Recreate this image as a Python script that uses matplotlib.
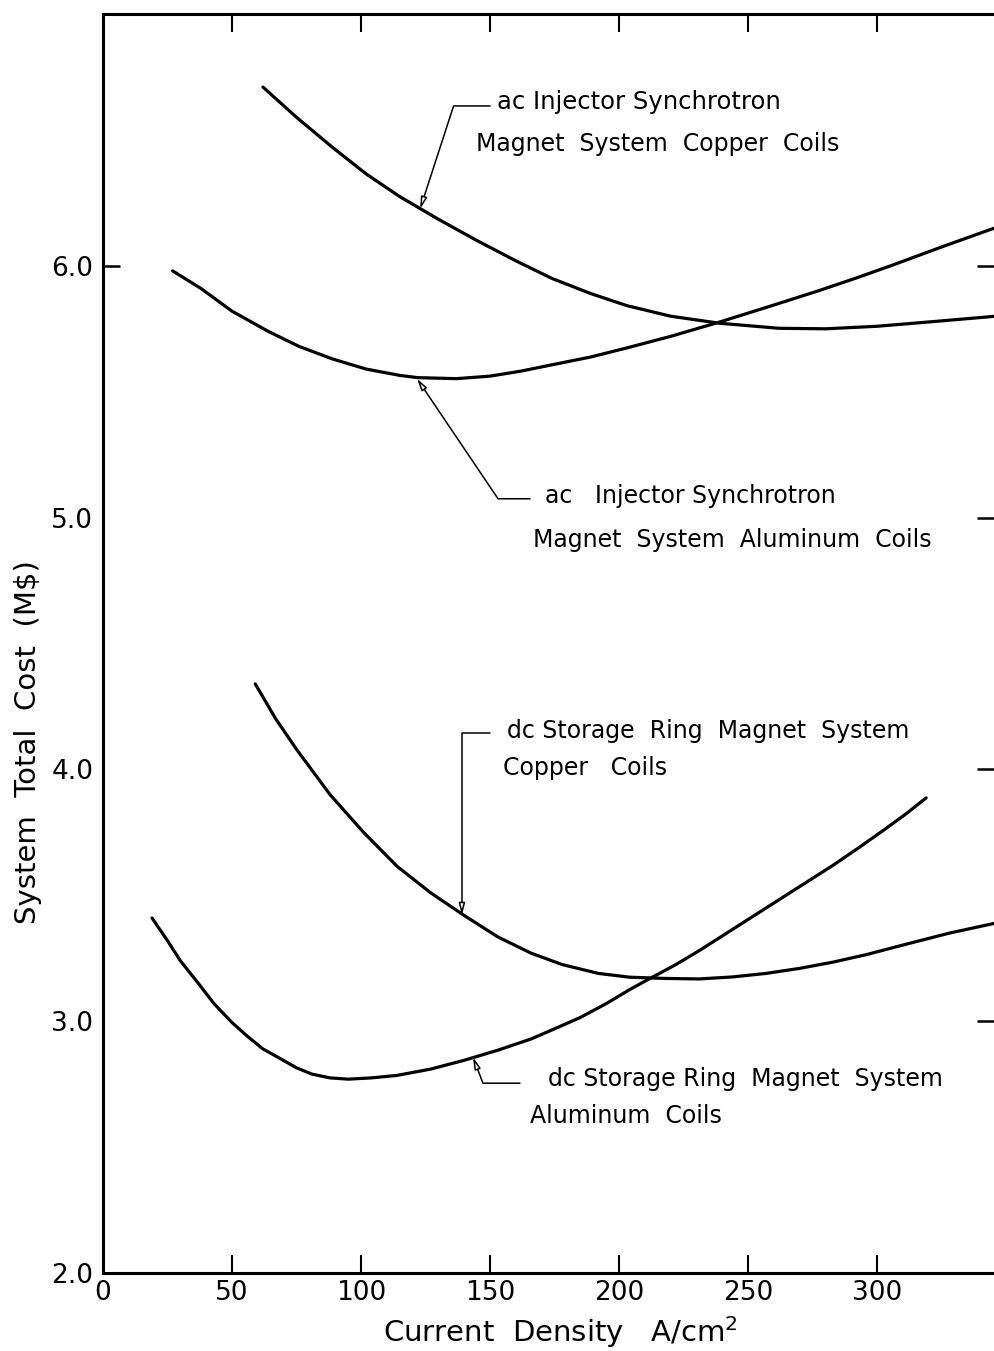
import matplotlib.pyplot as plt

# current density (A/cm^2) vs system total cost (M$)
ac_cu_x = [62, 75, 89, 102, 115, 130, 145, 160, 174, 189, 203, 220, 239, 262, 280, 300, 321, 346]
ac_cu_y = [6.71, 6.59, 6.47, 6.365, 6.275, 6.185, 6.10, 6.02, 5.95, 5.89, 5.842, 5.80, 5.772, 5.752, 5.75,
           5.76, 5.778, 5.80]

ac_al_x = [27, 38, 50, 64, 76, 89, 102, 115, 122, 137, 150, 162, 174, 189, 203, 220, 239, 258, 277, 292, 306, 325, 346]
ac_al_y = [5.98, 5.91, 5.82, 5.74, 5.68, 5.63, 5.59, 5.565, 5.556, 5.552, 5.562, 5.582, 5.607, 5.638, 5.674,
           5.72, 5.777, 5.838, 5.90, 5.952, 6.003, 6.075, 6.152]

dc_cu_x = [59, 67, 75, 88, 101, 114, 127, 140, 153, 166, 178, 192, 204, 218, 231, 244, 257, 270, 283, 296, 309, 328, 346]
dc_cu_y = [4.34, 4.20, 4.08, 3.90, 3.75, 3.615, 3.51, 3.42, 3.335, 3.27, 3.225, 3.19, 3.175, 3.17, 3.168, 3.176,
           3.19, 3.21, 3.235, 3.265, 3.30, 3.35, 3.39]

dc_al_x = [19, 25, 30, 37, 43, 50, 56, 62, 69, 75, 81, 88, 95, 104, 114, 127, 140, 153, 166, 175, 185, 195,
           204, 212, 222, 231, 244, 257, 270, 283, 293, 302, 311, 319]
dc_al_y = [3.41, 3.32, 3.24, 3.15, 3.07, 2.995, 2.94, 2.89, 2.85, 2.815, 2.79, 2.775, 2.77, 2.775, 2.785, 2.81,
           2.845, 2.885, 2.93, 2.97, 3.015, 3.07, 3.125, 3.17, 3.225, 3.28, 3.365, 3.45, 3.535, 3.62, 3.69,
           3.755, 3.822, 3.887]

x_ticks = [0, 50, 100, 150, 200, 250, 300]
y_ticks = [2.0, 3.0, 4.0, 5.0, 6.0]

fig = plt.figure(figsize=(9.94, 13.51), dpi=100)
ax = fig.add_axes([0.1036, 0.0577, 0.8964, 0.9319])

for xs, ys in [(ac_cu_x, ac_cu_y), (ac_al_x, ac_al_y), (dc_cu_x, dc_cu_y), (dc_al_x, dc_al_y)]:
    ax.plot(xs, ys, color="black", lw=2.3, solid_capstyle="round", solid_joinstyle="round")

ax.set_xlim(0, 345.3)
ax.set_ylim(2.0, 7.0)

# frame: right side is cut off in the scan
for s in ["left", "top", "bottom"]:
    ax.spines[s].set_linewidth(2.2)
ax.spines["right"].set_visible(False)

ax.set_xticks(x_ticks)
ax.set_xticklabels([str(v) for v in x_ticks])
ax.set_yticks(y_ticks)
ax.set_yticklabels(["%.1f" % v for v in y_ticks])
ax.tick_params(axis="x", direction="in", length=13, width=1.5, top=True, bottom=True,
               labelsize=19, pad=5)
ax.tick_params(axis="y", direction="in", length=12, width=1.8, left=True, right=True,
               labelsize=19, pad=7)

xt = ax.xaxis.get_major_ticks()
xt[0].tick1line.set_visible(False)
xt[0].tick2line.set_visible(False)
for t, v in zip(ax.yaxis.get_major_ticks(), y_ticks):
    if v != 6.0:
        t.tick1line.set_visible(False)
    if v == 2.0:
        t.tick2line.set_visible(False)

ax.set_xlabel("Current  Density   A/cm$^2$", fontsize=21)
ax.set_ylabel("System  Total  Cost  (M$)", fontsize=21)
ax.xaxis.set_label_coords(0.513, -0.033)
ax.yaxis.set_label_coords(-0.068, 0.422)

# callouts: (tip on curve, start of leader, leader angle at tip, text lines)
arrow = dict(arrowstyle="-|>,head_length=0.7,head_width=0.18", lw=1.1,
             color="black", fc="white", shrinkA=0, shrinkB=0)

ax.annotate("", xy=(122.9, 6.226), xytext=(150.0, 6.635),
            arrowprops=dict(arrow, connectionstyle="angle,angleA=0,angleB=72"))
ax.text(152.7, 6.651, "ac Injector Synchrotron", fontsize=17.5, va="center")
ax.text(144.6, 6.484, "Magnet  System  Copper  Coils", fontsize=17, va="center")

ax.annotate("", xy=(121.7, 5.552), xytext=(165.5, 5.075),
            arrowprops=dict(arrow, connectionstyle="angle,angleA=0,angleB=-56"))
ax.text(171.3, 5.087, "ac   Injector Synchrotron", fontsize=17, va="center")
ax.text(166.7, 4.913, "Magnet  System  Aluminum  Coils", fontsize=17, va="center")

ax.annotate("", xy=(139.1, 3.421), xytext=(150.0, 4.143),
            arrowprops=dict(arrow, connectionstyle="angle,angleA=0,angleB=90"))
ax.text(156.6, 4.151, "dc Storage  Ring  Magnet  System", fontsize=17, va="center")
ax.text(155.0, 4.004, "Copper   Coils", fontsize=17, va="center")

ax.annotate("", xy=(143.4, 2.857), xytext=(161.6, 2.754),
            arrowprops=dict(arrow, connectionstyle="angle,angleA=0,angleB=-69"))
ax.text(172.5, 2.770, "dc Storage Ring  Magnet  System", fontsize=17, va="center")
ax.text(165.5, 2.623, "Aluminum  Coils", fontsize=17, va="center")

plt.savefig("out.png", dpi=100)
